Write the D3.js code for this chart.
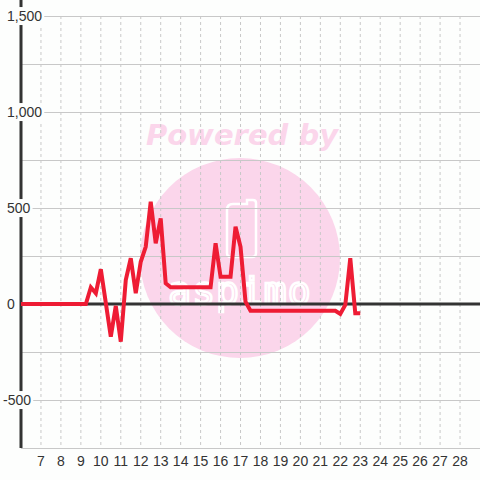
<!DOCTYPE html>
<html>
<head>
<meta charset="utf-8">
<script src="https://cdn.jsdelivr.net/npm/d3@7"></script>
<style>
  body { margin: 0; background: #fdfefd; }
  text { font-family: "Liberation Sans", Arial, sans-serif; }
</style>
</head>
<body>
<div id="chart"></div>
<script>
const hours = [6, 9.25, 9.5, 9.75, 10, 10.5, 10.75, 11, 11.25, 11.5, 11.75, 12, 12.25, 12.5,
  12.75, 13, 13.25, 13.5, 15.5, 15.75, 16, 16.5, 16.75, 17, 17.25, 17.5, 21.75, 22, 22.25,
  22.5, 22.75, 23];
const values = [0, 0, 87, 56, 181, -170, -10, -196, 125, 238, 56, 220, 298, 533,
  316, 446, 108, 87, 87, 316, 142, 142, 403, 298, 12, -35, -35, -52, -5,
  238, -48, -48];
const xTicks = [7, 8, 9, 10, 11, 12, 13, 14, 15, 16, 17, 18, 19, 20, 21, 22, 23, 24, 25, 26, 27, 28];
const yTicks = [-500, 0, 500, 1000, 1500];
const yGrid = [-750, -500, -250, 0, 250, 500, 750, 1000, 1250, 1500];

const width = 480, height = 480;
const margin = { top: 16, right: 0, bottom: 32, left: 21 };

const svg = d3.select("#chart")
  .append("svg")
  .attr("width", width)
  .attr("height", height);

svg.append("rect").attr("width", width).attr("height", height).attr("fill", "#fdfefd");

const x = d3.scaleLinear().domain([6, 29]).range([margin.left, width - margin.right]);
const y = d3.scaleLinear().domain([-750, 1500]).range([height - margin.bottom, margin.top]);

// watermark
const wm = svg.append("g").attr("class", "watermark");
wm.append("circle")
  .attr("cx", 240).attr("cy", 258).attr("r", 100)
  .attr("fill", "#fbd6eb");
wm.append("text")
  .attr("x", 242).attr("y", 145)
  .attr("text-anchor", "middle")
  .style("font-size", "29px")
  .style("font-weight", "bold")
  .style("font-style", "italic")
  .style("font-family", "'DejaVu Sans', sans-serif")
  .attr("fill", "#fbd6eb")
  .text("Powered by");
wm.append("path")
  .attr("d", "M227,210 q0,-6 6,-6 h14 v-4 h6 q3,0 3,3 v50 q0,4 -4,4 h-21 q-4,0 -4,-4 z")
  .attr("fill", "none")
  .attr("stroke", "#fff")
  .attr("stroke-width", 2.5);
wm.append("text")
  .attr("x", 240).attr("y", 304)
  .attr("text-anchor", "middle")
  .style("font-size", "38px")
  .style("font-family", "'DejaVu Sans Mono', monospace")
  .style("letter-spacing", "1px")
  .attr("fill", "none")
  .attr("stroke", "#fff")
  .attr("stroke-width", 2.5)
  .text("aspimo");

// grid
svg.append("g")
  .selectAll("line")
  .data(xTicks)
  .join("line")
  .attr("x1", (d) => x(d)).attr("x2", (d) => x(d))
  .attr("y1", y(1500)).attr("y2", y(-750))
  .attr("stroke", "#c8c8c8")
  .attr("stroke-dasharray", "3,3");
svg.append("g")
  .selectAll("line")
  .data(yGrid)
  .join("line")
  .attr("x1", margin.left).attr("x2", width)
  .attr("y1", (d) => y(d) + 0.5).attr("y2", (d) => y(d) + 0.5)
  .attr("stroke", "#c8c8c8");

// zero line and y axis
svg.append("line")
  .attr("x1", margin.left).attr("x2", width)
  .attr("y1", y(0)).attr("y2", y(0))
  .attr("stroke", "#333").attr("stroke-width", 3);
svg.append("line")
  .attr("x1", margin.left).attr("x2", margin.left)
  .attr("y1", 0).attr("y2", y(-750))
  .attr("stroke", "#333").attr("stroke-width", 3);

// series
const line = d3.line().x((d, i) => x(hours[i])).y((d) => y(d));
svg.append("path")
  .datum(values)
  .attr("d", line)
  .attr("fill", "none")
  .attr("stroke", "#ee1c34")
  .attr("stroke-width", 4)
  .attr("stroke-linejoin", "miter");

// y labels with background boxes
const fmt = (d) => d3.format(",")(d).replace("\u2212", "-");
const yl = svg.append("g")
  .selectAll("g")
  .data(yTicks)
  .join("g")
  .attr("transform", (d) => "translate(" + (d < 0 ? 3 : 7) + "," + y(d) + ")");
yl.append("text")
  .attr("dy", "0.36em")
  .style("font-size", "14px")
  .attr("fill", "#333")
  .text((d) => fmt(d));
yl.each(function () {
  const t = d3.select(this).select("text").node().getBBox();
  d3.select(this).insert("rect", "text")
    .attr("x", t.x - 2).attr("y", t.y - 1)
    .attr("width", t.width + 4).attr("height", t.height + 2)
    .attr("fill", "#fdfefd");
});

// x labels
svg.append("g")
  .selectAll("text")
  .data(xTicks)
  .join("text")
  .attr("x", (d) => x(d))
  .attr("y", 466)
  .attr("text-anchor", "middle")
  .style("font-size", "14px")
  .attr("fill", "#333")
  .text((d) => d);
</script>
</body>
</html>
